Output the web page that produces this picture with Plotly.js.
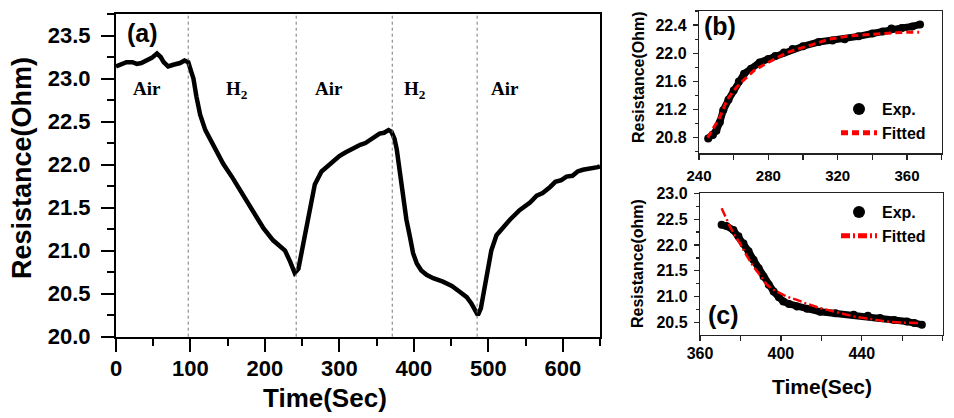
<!DOCTYPE html>
<html>
<head>
<meta charset="utf-8">
<script src="https://cdn.plot.ly/plotly-3.0.1.min.js"></script>
<style>html,body{margin:0;padding:0;background:#fff}#chart{width:954px;height:418px}</style>
</head>
<body>
<div id="chart"></div>
<script>
// ---- Panel (a): full response ----
var timeA = [0,7,14,22,28,34,41,48,55,60,64,70,77,86,92,97,101,104,108,113,120,131,144,157,171,184,198,211,227,234,240,245,249,254,258,263,267,276,287,300,308,314,321,328,335,341,348,354,360,366,370,374,377,381,386,390,395,399,404,410,417,426,439,451,462,471,477,482,486,490,495,500,504,511,520,529,542,556,565,573,583,590,598,605,613,620,627,637,647,650];
var resA = [23.14,23.17,23.19,23.19,23.17,23.18,23.21,23.24,23.29,23.25,23.19,23.14,23.16,23.18,23.21,23.19,23.08,23.0,22.79,22.58,22.4,22.21,22.01,21.84,21.65,21.46,21.26,21.12,21.0,20.87,20.74,20.79,20.97,21.22,21.43,21.6,21.77,21.92,22.01,22.1,22.14,22.17,22.19,22.23,22.25,22.28,22.32,22.36,22.37,22.4,22.38,22.3,22.18,21.9,21.58,21.36,21.15,20.97,20.85,20.77,20.72,20.68,20.64,20.59,20.52,20.46,20.39,20.3,20.25,20.33,20.58,20.81,21.0,21.18,21.28,21.36,21.47,21.56,21.64,21.67,21.74,21.8,21.82,21.86,21.87,21.92,21.94,21.95,21.97,21.98];
var switchTimes = [97, 242, 371, 485];
var gasLabels = ['Air', 'H<sub>2</sub>', 'Air', 'H<sub>2</sub>', 'Air'];
var gasLabelX = [42, 163, 286, 402, 522];
var gasLabelY = [22.89, 22.87, 22.89, 22.87, 22.89];

// ---- Panel (b): recovery in air ----
var timeB = [245.3,248,250,252,254,257,260,263,266,270,275,280,284,289,294,300,309,317,324,332,340,346,351,357,363,367.5];
var expB = [20.79,20.84,20.9,21.02,21.19,21.34,21.47,21.6,21.71,21.78,21.87,21.92,21.96,22.01,22.06,22.1,22.16,22.18,22.2,22.24,22.28,22.31,22.35,22.36,22.38,22.41];
var fitTimeB = [245,248,252,256,260,264,268,272,277,282,286,292,298,305,315,328,340,351,360,367];
var fitB = [20.8,20.93,21.09,21.33,21.47,21.58,21.67,21.76,21.83,21.9,21.95,22.02,22.07,22.12,22.2,22.25,22.27,22.29,22.3,22.3];

// ---- Panel (c): response in H2 ----
var timeC = [370.7,373,376.5,379,381.5,384,386.5,389,391.4,394,396.4,399,401.2,404,408,413,419.4,427,436,443,449,456,462.3,466,469.7];
var expC = [22.39,22.37,22.29,22.17,22.03,21.88,21.71,21.55,21.39,21.23,21.1,20.99,20.91,20.86,20.81,20.77,20.71,20.68,20.65,20.63,20.59,20.55,20.52,20.49,20.46];
var fitTimeC = [370.7,372.5,374.8,377,379.8,383,386.5,390,393.1,396,399.6,403,407.9,413,419.4,427,435.9,444,452.4,460,468.9];
var fitC = [22.71,22.55,22.36,22.2,22.03,21.8,21.58,21.4,21.23,21.14,21.07,21.0,20.94,20.86,20.78,20.7,20.62,20.57,20.52,20.5,20.49];

var SANS = 'Liberation Sans, Arial, sans-serif';
var SERIF = 'Liberation Serif, Times New Roman, serif';
function f(size, fam) { return {family: fam || SANS, size: size, color: '#000', weight: 700}; }

var traces = [
  {x: timeA, y: resA, xaxis: 'x', yaxis: 'y', mode: 'lines', line: {color: '#000', width: 4.5}, showlegend: false},
  {x: timeB, y: expB, xaxis: 'x2', yaxis: 'y2', mode: 'lines', line: {color: '#000', width: 7}, showlegend: false},
  {x: timeB, y: expB, xaxis: 'x2', yaxis: 'y2', mode: 'markers', name: 'Exp.', marker: {color: '#000', size: 8}, legend: 'legend'},
  {x: fitTimeB, y: fitB, xaxis: 'x2', yaxis: 'y2', mode: 'lines', name: 'Fitted', line: {color: '#ff0000', width: 3, dash: '7px,4px'}, legend: 'legend'},
  {x: timeC, y: expC, xaxis: 'x3', yaxis: 'y3', mode: 'lines', line: {color: '#000', width: 7}, showlegend: false},
  {x: timeC, y: expC, xaxis: 'x3', yaxis: 'y3', mode: 'markers', name: 'Exp.', marker: {color: '#000', size: 8}, legend: 'legend2'},
  {x: fitTimeC, y: fitC, xaxis: 'x3', yaxis: 'y3', mode: 'lines', name: 'Fitted', line: {color: '#ff0000', width: 2.5, dash: '9px,3px,2px,3px'}, legend: 'legend2'}
];

function px2x(p) { return p / 954; }
function px2y(p) { return 1 - p / 418; }

var bigAxis = {showline: true, mirror: true, linecolor: '#000', linewidth: 2, ticks: 'outside', ticklen: 13, tickwidth: 2, tickcolor: '#000', showgrid: false, zeroline: false, tickfont: f(22)};
var smallAxis = {showline: true, mirror: true, linecolor: '#222', linewidth: 1.2, ticks: 'outside', ticklen: 5, tickwidth: 1.2, tickcolor: '#222', showgrid: false, zeroline: false, tickfont: f(16)};
function ax(base, extra) { return Object.assign({}, base, extra); }

var shapes = switchTimes.map(function (t) {
  return {type: 'line', xref: 'x', yref: 'y domain', x0: t, x1: t, y0: 0, y1: 1, line: {color: '#777', width: 1, dash: 'dot'}};
});

function note(x, y, text, font, angle) {
  return {xref: 'paper', yref: 'paper', x: px2x(x), y: px2y(y), text: text, showarrow: false, font: font,
          xanchor: 'center', yanchor: 'middle', textangle: angle || 0};
}

var annotations = [];
for (var i = 0; i < gasLabels.length; i++) {
  annotations.push({xref: 'x', yref: 'y', x: gasLabelX[i], y: gasLabelY[i], text: gasLabels[i], showarrow: false,
                    xanchor: 'center', yanchor: 'middle', font: f(19, SERIF)});
}
annotations = annotations.concat([
  note(142.5, 33, '(a)', f(25)),
  note(720, 26, '(b)', f(25)),
  note(723, 315, '(c)', f(25)),
  note(22, 168, 'Resistance(Ohm)', f(27), -90),
  note(325, 398, 'Time(Sec)', f(26)),
  note(638, 77, 'Resistance(Ohm)', f(16), -90),
  note(637, 264, 'Resistance(ohm)', f(16), -90),
  note(822, 386, 'Time(Sec)', f(21))
]);

var layout = {
  width: 954, height: 418,
  margin: {l: 0, r: 0, t: 0, b: 0},
  paper_bgcolor: '#fff', plot_bgcolor: '#fff',
  showlegend: true,
  xaxis: ax(bigAxis, {domain: [px2x(116), px2x(600)], range: [0, 650], tick0: 0, dtick: 100, anchor: 'y', ticklabelstandoff: -2, minor: {dtick: 50, ticks: 'outside', ticklen: 7, tickwidth: 2, tickcolor: '#000'}}),
  yaxis: ax(bigAxis, {domain: [px2y(336.7), px2y(14)], range: [20, 23.75], tick0: 20, dtick: 0.5, tickformat: '.1f', anchor: 'x', ticklabelstandoff: 6, minor: {dtick: 0.25, ticks: 'outside', ticklen: 7, tickwidth: 2, tickcolor: '#000'}}),
  xaxis2: ax(smallAxis, {domain: [px2x(699), px2x(941.7)], range: [240, 380], tick0: 240, dtick: 40, anchor: 'y2', tickfont: f(15), ticklabelstandoff: 3, minor: {dtick: 20, ticks: 'outside', ticklen: 5, tickwidth: 1.2, tickcolor: '#222'}}),
  yaxis2: ax(smallAxis, {domain: [px2y(153.3), px2y(11)], range: [20.58, 22.6], tick0: 20.8, dtick: 0.4, tickformat: '.1f', anchor: 'x2', ticklabelstandoff: 3, minor: {dtick: 0.2, ticks: 'outside', ticklen: 3, tickwidth: 1.2, tickcolor: '#222'}}),
  xaxis3: ax(smallAxis, {domain: [px2x(700), px2x(942.7)], range: [360, 480], tick0: 360, dtick: 40, anchor: 'y3', ticklabelstandoff: -1, minor: {dtick: 20, ticks: 'outside', ticklen: 5, tickwidth: 1.2, tickcolor: '#222'}}),
  yaxis3: ax(smallAxis, {domain: [px2y(335), px2y(193.3)], range: [20.26, 23.0], tick0: 20.5, dtick: 0.5, tickformat: '.1f', anchor: 'x3', ticklabelstandoff: 3, minor: {dtick: 0.25, ticks: 'outside', ticklen: 3, tickwidth: 1.2, tickcolor: '#222'}}),
  legend: {x: px2x(836), xanchor: 'left', y: px2y(92), yanchor: 'top', bgcolor: 'rgba(0,0,0,0)', font: f(16), itemsizing: 'constant', itemwidth: 36, tracegroupgap: 0},
  legend2: {x: px2x(836), xanchor: 'left', y: px2y(195), yanchor: 'top', bgcolor: 'rgba(0,0,0,0)', font: f(16), itemsizing: 'constant', itemwidth: 36, tracegroupgap: 0},
  shapes: shapes,
  annotations: annotations
};

Plotly.newPlot('chart', traces, layout, {staticPlot: true, displayModeBar: false});
</script>
</body>
</html>
